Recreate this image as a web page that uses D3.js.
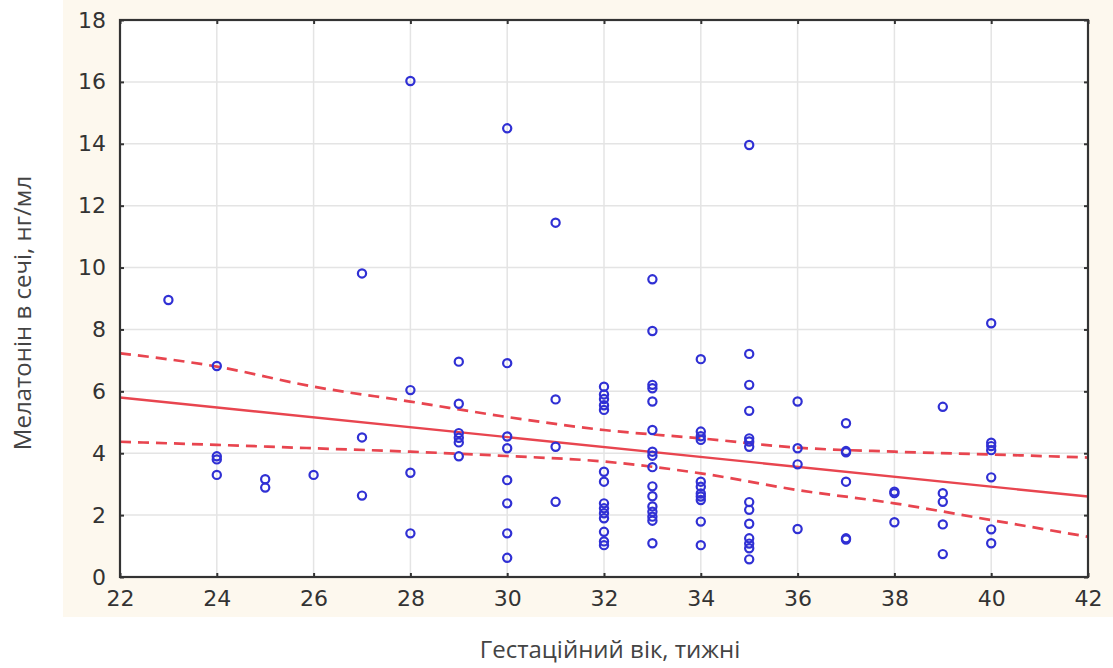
<!DOCTYPE html>
<html>
<head>
<meta charset="utf-8">
<script src="https://cdn.jsdelivr.net/npm/d3@7"></script>
<style>
  html, body { margin: 0; padding: 0; background: #ffffff; }
  svg { display: block; }
</style>
</head>
<body>
<svg id="chart" width="1113" height="668"></svg>
<script>
// ---- data ----
const weekColumns = [23, 24, 25, 26, 27, 28, 29, 30, 31, 32, 33, 34, 35, 36, 37, 38, 39, 40];
const melatoninByWeek = [
  [8.95],
  [6.82, 3.9, 3.8, 3.30],
  [3.16, 2.89],
  [3.30],
  [9.81, 4.51, 2.63],
  [16.03, 6.04, 3.37, 1.41],
  [6.96, 5.6, 4.65, 4.5, 4.35, 3.9],
  [14.5, 6.91, 4.54, 4.16, 3.13, 2.38, 1.41, 0.62],
  [11.45, 5.74, 4.21, 2.43],
  [6.15, 5.9, 5.75, 5.55, 5.4, 3.4, 3.08, 2.38, 2.22, 2.06, 1.9, 1.46, 1.15, 1.03],
  [9.62, 7.95, 6.21, 6.1, 5.67, 4.75, 4.05, 3.92, 3.55, 2.93, 2.61, 2.28, 2.11, 1.95, 1.82, 1.09],
  [7.04, 4.7, 4.55, 4.43, 3.08, 2.92, 2.7, 2.6, 2.49, 1.79, 1.03],
  [13.96, 7.21, 6.21, 5.37, 4.48, 4.38, 4.21, 2.42, 2.17, 1.72, 1.25, 1.08, 0.93, 0.57],
  [5.67, 4.16, 3.64, 1.55],
  [4.97, 4.07, 4.03, 3.08, 1.25, 1.21],
  [2.76, 2.71, 1.77],
  [5.50, 2.71, 2.43, 1.70, 0.74],
  [8.20, 4.34, 4.23, 4.10, 3.22, 1.54, 1.09]
];
// regression line and its confidence band, read at grid weeks
const regWeeks = [22, 42];
const regValues = [5.80, 2.60];
const bandWeeks = [22, 24, 26, 28, 30, 32, 34, 36, 38, 40, 42];
const bandUpper = [7.23, 6.80, 6.15, 5.67, 5.17, 4.75, 4.48, 4.18, 4.05, 3.96, 3.86];
const bandLower = [4.37, 4.27, 4.16, 4.05, 3.91, 3.73, 3.35, 2.81, 2.38, 1.84, 1.30];
const xTicks = [22, 24, 26, 28, 30, 32, 34, 36, 38, 40, 42];
const yTicks = [0, 2, 4, 6, 8, 10, 12, 14, 16, 18];
const xTitle = "Гестаційний вік, тижні";
const yTitle = "Мелатонін в сечі, нг/мл";

// ---- drawing ----
const svg = d3.select("#chart");
const W = 1113, H = 668;
const plot = { left: 120, right: 1088, top: 20, bottom: 577 };

// beige panel
svg.append("rect").attr("x", 63).attr("y", 0).attr("width", W - 63).attr("height", 617)
  .attr("fill", "#fdf8ee");
svg.append("rect").attr("x", plot.left).attr("y", plot.top)
  .attr("width", plot.right - plot.left).attr("height", plot.bottom - plot.top)
  .attr("fill", "#ffffff");

const x = d3.scaleLinear().domain([22, 42]).range([plot.left, plot.right]);
const y = d3.scaleLinear().domain([0, 18]).range([plot.bottom, plot.top]);

// grid
const grid = svg.append("g");
grid.selectAll("line.vx").data(xTicks.slice(1, -1)).join("line")
  .attr("x1", d => x(d)).attr("x2", d => x(d)).attr("y1", plot.top).attr("y2", plot.bottom)
  .attr("stroke", "#e4e4e4").attr("stroke-width", 1.5);
grid.selectAll("line.hy").data(yTicks.slice(1, -1)).join("line")
  .attr("y1", d => y(d)).attr("y2", d => y(d)).attr("x1", plot.left).attr("x2", plot.right)
  .attr("stroke", "#e4e4e4").attr("stroke-width", 1.5);

// confidence band and regression
const lineGen = d3.line().x(d => x(d[0])).y(d => y(d[1])).curve(d3.curveMonotoneX);
const red = "#e8454f";
svg.append("path").datum(bandWeeks.map((w, i) => [w, bandUpper[i]]))
  .attr("d", lineGen).attr("fill", "none").attr("stroke", red)
  .attr("stroke-width", 2.7).attr("stroke-dasharray", "11,7");
svg.append("path").datum(bandWeeks.map((w, i) => [w, bandLower[i]]))
  .attr("d", lineGen).attr("fill", "none").attr("stroke", red)
  .attr("stroke-width", 2.7).attr("stroke-dasharray", "11,7");
svg.append("path").datum(regWeeks.map((w, i) => [w, regValues[i]]))
  .attr("d", d3.line().x(d => x(d[0])).y(d => y(d[1])))
  .attr("fill", "none").attr("stroke", red).attr("stroke-width", 2.4);

// points
const points = [];
weekColumns.forEach((w, i) => melatoninByWeek[i].forEach(v => points.push([w, v])));
svg.append("g").selectAll("circle").data(points).join("circle")
  .attr("cx", d => x(d[0])).attr("cy", d => y(d[1])).attr("r", 4.1)
  .attr("fill", "none").attr("stroke", "#3030d4").attr("stroke-width", 2.2);

// axes (ticks inside on all four sides)
const axisColor = "#333333";
const mkAxis = (g) => {
  g.select(".domain").remove();
  g.selectAll(".tick line").attr("stroke", axisColor).attr("stroke-width", 2);
};
const tickFont = g => g.selectAll("text")
  .attr("font-family", "DejaVu Sans, sans-serif").attr("font-size", 22).attr("fill", "#333");
svg.append("g").attr("transform", `translate(0,${plot.bottom})`)
  .call(d3.axisBottom(x).tickValues(xTicks).tickSize(-4).tickPadding(13).tickFormat(d3.format("d")))
  .call(mkAxis).call(tickFont);
svg.append("g").attr("transform", `translate(${plot.left},0)`)
  .call(d3.axisLeft(y).tickValues(yTicks).tickSize(-4).tickPadding(14).tickFormat(d3.format("d")))
  .call(mkAxis).call(tickFont);
svg.append("g").attr("transform", `translate(0,${plot.top})`)
  .call(d3.axisTop(x).tickValues(xTicks).tickSize(-4).tickFormat(""))
  .call(mkAxis);
svg.append("g").attr("transform", `translate(${plot.right},0)`)
  .call(d3.axisRight(y).tickValues(yTicks).tickSize(-4).tickFormat(""))
  .call(mkAxis);

// frame
svg.append("rect").attr("x", plot.left).attr("y", plot.top)
  .attr("width", plot.right - plot.left).attr("height", plot.bottom - plot.top)
  .attr("fill", "none").attr("stroke", axisColor).attr("stroke-width", 2.2);

// titles
svg.append("text").attr("x", 610).attr("y", 658).attr("text-anchor", "middle")
  .attr("font-family", "Open Sans, sans-serif").attr("font-size", 24).attr("fill", "#444")
  .text(xTitle);
svg.append("text").attr("transform", `translate(31,313) rotate(-90)`).attr("text-anchor", "middle")
  .attr("font-family", "Open Sans, sans-serif").attr("font-size", 24).attr("fill", "#444")
  .text(yTitle);
</script>
</body>
</html>
